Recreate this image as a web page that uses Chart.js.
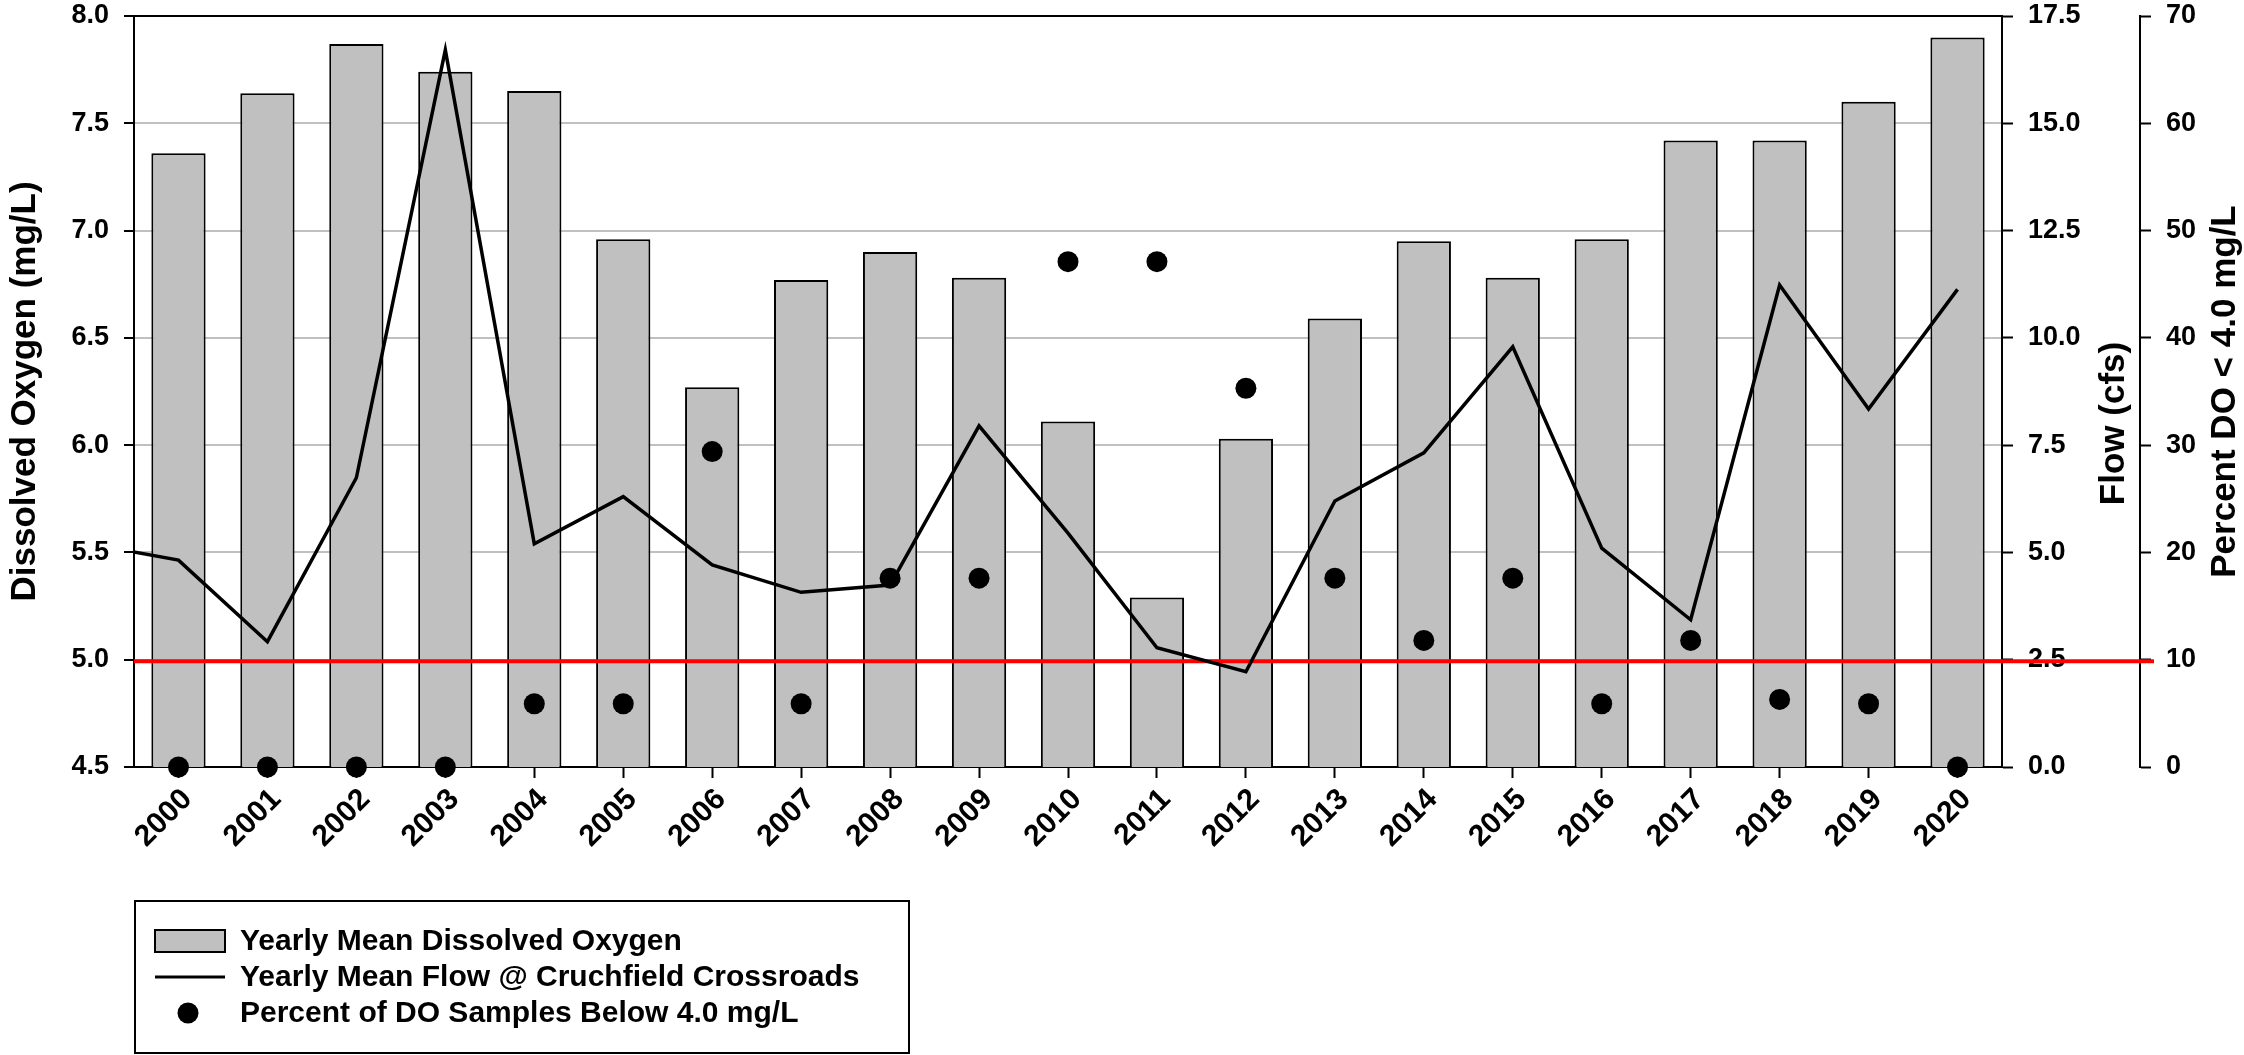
<!DOCTYPE html>
<html>
<head>
<meta charset="utf-8">
<title>Dissolved Oxygen, Flow and Percent DO below 4.0 mg/L</title>
<script src="https://cdn.jsdelivr.net/npm/chart.js@4.4.0/dist/chart.umd.min.js"></script>
<style>
  html, body { margin: 0; padding: 0; background: #ffffff; }
  #contenedor { width: 2244px; height: 1055px; }
</style>
</head>
<body>
<div id="contenedor"><canvas id="grafica" width="2244" height="1055"></canvas></div>
<script>
// Datos
const years = ['2000', '2001', '2002', '2003', '2004', '2005', '2006', '2007', '2008', '2009', '2010',
               '2011', '2012', '2013', '2014', '2015', '2016', '2017', '2018', '2019', '2020'];

// Yearly mean dissolved oxygen (mg/L)
const doMean = [7.36, 7.64, 7.87, 7.74, 7.65, 6.96, 6.27, 6.77, 6.90, 6.78, 6.11,
                5.29, 6.03, 6.59, 6.95, 6.78, 6.96, 7.42, 7.42, 7.60, 7.90];

// Yearly mean flow (cfs); 1999 only shows as the line entering from the left edge
const flowYears = ['1999', '2000', '2001', '2002', '2003', '2004', '2005', '2006', '2007', '2008', '2009', '2010',
                   '2011', '2012', '2013', '2014', '2015', '2016', '2017', '2018', '2019', '2020'];
const flowMean = [5.2, 4.82, 2.92, 6.74, 16.71, 5.20, 6.30, 4.71, 4.07, 4.24, 7.95, 5.45,
                  2.78, 2.22, 6.20, 7.32, 9.79, 5.10, 3.43, 11.23, 8.34, 11.13];

// Percent of DO samples below 4.0 mg/L
const pctBelow = [0, 0, 0, 0, 5.9, 5.9, 29.4, 5.9, 17.6, 17.6, 47.1,
                  47.1, 35.3, 17.6, 11.8, 17.6, 5.9, 11.8, 6.3, 5.9, 0];

const doStandard = 5.0;

const axisTitles = ['Dissolved Oxygen (mg/L)', 'Flow (cfs)', 'Percent DO < 4.0 mg/L'];
const legendLabels = ['Yearly Mean Dissolved Oxygen',
                      'Yearly Mean Flow @ Cruchfield Crossroads',
                      'Percent of DO Samples Below 4.0 mg/L'];

const FAMILIA = "'Liberation Sans', Arial, Helvetica, sans-serif";
const GRIS = '#c0c0c0';

Chart.defaults.font.family = FAMILIA;
Chart.defaults.color = '#000';

const fuenteTicks = { family: FAMILIA, size: 27, weight: 'bold' };

// Texto vertical (de abajo hacia arriba)
function textoVertical(ctx, texto, x, y) {
    ctx.save();
    ctx.translate(x, y);
    ctx.rotate(-Math.PI / 2);
    ctx.textAlign = 'center';
    ctx.textBaseline = 'alphabetic';
    ctx.fillText(texto, 0, 0);
    ctx.restore();
}

// ancho fijo de cada eje vertical, sin relleno extra arriba/abajo
function ajustarEje(ancho) {
    return function (s) {
        s.width = ancho;
        s.paddingTop = 0;
        s.paddingBottom = 0;
    };
}

const extras = {
    id: 'extras',
    // linea roja del estandar, encima de las barras y debajo de la linea de caudal
    afterDatasetDraw(chart, args) {
        if (args.index !== 0) return;
        const ctx = chart.ctx;
        const y = chart.scales.y.getPixelForValue(doStandard) + 1.5;
        ctx.save();
        ctx.strokeStyle = '#ff0000';
        ctx.lineWidth = 4;
        ctx.beginPath();
        ctx.moveTo(chart.chartArea.left, y);
        ctx.lineTo(chart.scales.yPct.left + 14, y);
        ctx.stroke();
        ctx.restore();
    },
    afterDraw(chart) {
        const ctx = chart.ctx;
        const area = chart.chartArea;
        const centroY = (area.top + area.bottom) / 2;

        ctx.save();
        ctx.fillStyle = '#000';
        ctx.font = 'bold 35px ' + FAMILIA;
        textoVertical(ctx, axisTitles[0], 35, centroY);
        textoVertical(ctx, axisTitles[1], chart.scales.yPct.left - 16, centroY + 32);
        textoVertical(ctx, axisTitles[2], chart.width - 9, centroY);
        ctx.restore();

        // Leyenda
        const filas = [941, 977, 1013];
        ctx.save();
        ctx.strokeStyle = '#000';
        ctx.lineWidth = 2;
        ctx.strokeRect(135, 901, 774, 152);

        ctx.fillStyle = GRIS;
        ctx.fillRect(155, filas[0] - 11, 70, 22);
        ctx.strokeRect(155, filas[0] - 11, 70, 22);

        ctx.lineWidth = 3;
        ctx.beginPath();
        ctx.moveTo(155, filas[1]);
        ctx.lineTo(225, filas[1]);
        ctx.stroke();

        ctx.fillStyle = '#000';
        ctx.beginPath();
        ctx.arc(188, filas[2], 10.5, 0, Math.PI * 2);
        ctx.fill();

        ctx.font = 'bold 30px ' + FAMILIA;
        ctx.textAlign = 'left';
        ctx.textBaseline = 'middle';
        legendLabels.forEach((t, i) => ctx.fillText(t, 240, filas[i] + 1));
        ctx.restore();
    }
};

new Chart(document.getElementById('grafica'), {
    type: 'bar',
    data: {
        labels: flowYears,
        datasets: [
            {
                type: 'bar',
                label: legendLabels[0],
                data: years.map((a, i) => ({ x: a, y: doMean[i] })),
                yAxisID: 'y',
                backgroundColor: GRIS,
                borderColor: '#000',
                borderWidth: 2,
                barPercentage: 0.61,
                categoryPercentage: 1.0,
                grouped: false,
                order: 2
            },
            {
                type: 'line',
                label: legendLabels[1],
                data: flowYears.map((a, i) => ({ x: a, y: flowMean[i] })),
                yAxisID: 'yFlow',
                borderColor: '#000',
                borderWidth: 3.5,
                pointRadius: 0,
                tension: 0,
                fill: false,
                order: 1
            },
            {
                type: 'line',
                label: legendLabels[2],
                data: years.map((a, i) => ({ x: a, y: pctBelow[i] })),
                yAxisID: 'yPct',
                showLine: false,
                pointRadius: 10.5,
                pointBackgroundColor: '#000',
                pointBorderWidth: 0,
                clip: false,
                order: 0
            }
        ]
    },
    options: {
        responsive: false,
        animation: false,
        devicePixelRatio: 1,
        layout: { padding: { top: 16, left: 0, right: 0, bottom: 0 } },
        plugins: {
            legend: { display: false },
            tooltip: { enabled: false }
        },
        scales: {
            x: {
                type: 'category',
                min: years[0],
                max: years[years.length - 1],
                offset: true,
                grid: { offset: false, drawOnChartArea: false, tickLength: 11, tickColor: '#000', tickWidth: 2 },
                border: { color: '#000', width: 2 },
                ticks: { font: { family: FAMILIA, size: 30, weight: 'bold' }, color: '#000',
                         minRotation: 45, maxRotation: 45, autoSkip: false, padding: 4, labelOffset: 9 },
                afterFit(s) { s.height = 288; }
            },
            y: {
                position: 'left',
                min: 4.5,
                max: 8.0,
                ticks: { stepSize: 0.5, font: fuenteTicks, color: '#000', padding: 15,
                         callback: v => Number(v).toFixed(1) },
                grid: {
                    color: c => (c.tick && Math.abs(c.tick.value - 8) < 1e-6) ? '#000' : GRIS,
                    lineWidth: 2, tickLength: 10, tickColor: '#000', tickWidth: 2
                },
                border: { color: '#000', width: 2 },
                afterFit: ajustarEje(134)
            },
            yFlow: {
                position: 'right',
                weight: 1,
                min: 0,
                max: 17.5,
                ticks: { stepSize: 2.5, font: fuenteTicks, color: '#000', padding: 15,
                         callback: v => Number(v).toFixed(1) },
                grid: { drawOnChartArea: false, tickLength: 11, tickColor: '#000', tickWidth: 2 },
                border: { color: '#000', width: 2 },
                afterFit: ajustarEje(138)
            },
            yPct: {
                position: 'right',
                weight: 2,
                min: 0,
                max: 70,
                ticks: { stepSize: 10, font: fuenteTicks, color: '#000', padding: 15 },
                grid: { drawOnChartArea: false, tickLength: 11, tickColor: '#000', tickWidth: 2 },
                border: { color: '#000', width: 2 },
                afterFit: ajustarEje(104)
            }
        }
    },
    plugins: [extras]
});
</script>
</body>
</html>
